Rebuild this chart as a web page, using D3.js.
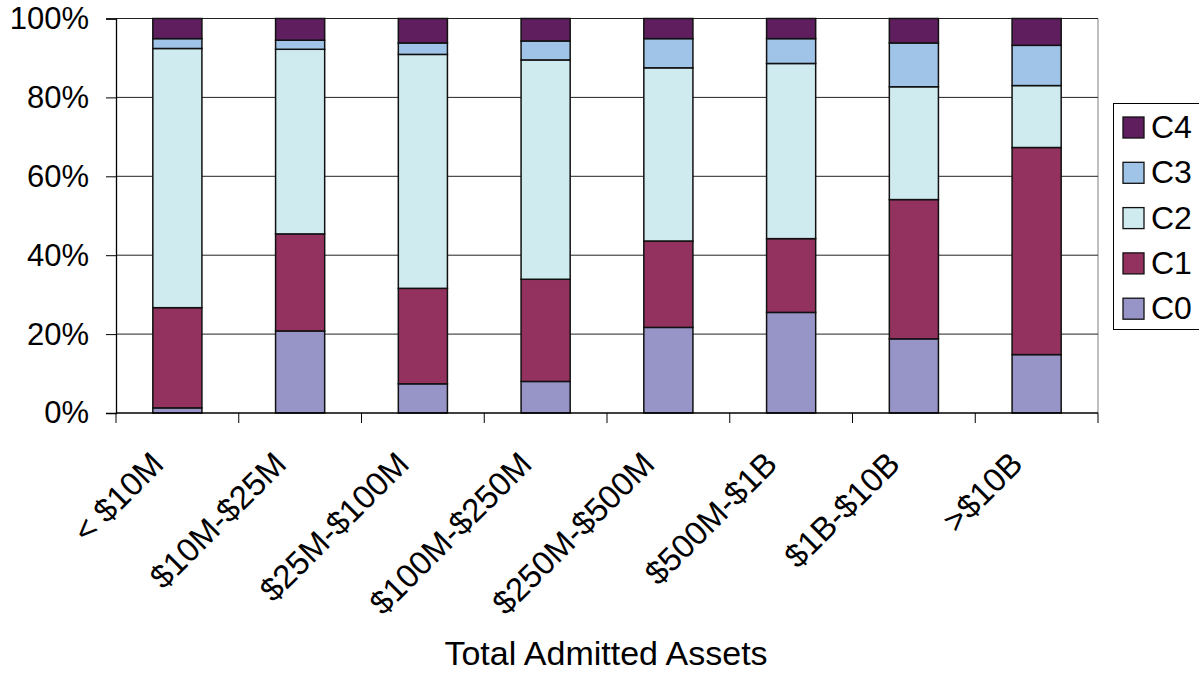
<!DOCTYPE html>
<html>
<head>
<meta charset="utf-8">
<script src="https://cdn.jsdelivr.net/npm/d3@7"></script>
<style>
  html, body { margin: 0; padding: 0; background: #fff; }
  svg { display: block; }
  text { font-family: "Liberation Sans", Arial, sans-serif; fill: #000; }
</style>
</head>
<body>
<svg id="chart" width="1199" height="673"></svg>
<script>
// Asset-size buckets along the x axis
const categories = ["< $10M", "$10M-$25M", "$25M-$100M", "$100M-$250M",
                    "$250M-$500M", "$500M-$1B", "$1B-$10B", ">$10B"];

// Share of each class within a bucket (percent)
const C0 = [1.3, 20.8, 7.4, 8.0, 21.7, 25.5, 18.8, 14.8];
const C1 = [25.4, 24.6, 24.2, 25.9, 21.9, 18.7, 35.3, 52.5];
const C2 = [65.7, 46.8, 59.3, 55.6, 43.9, 44.4, 28.6, 15.7];
const C3 = [2.5, 2.3, 2.9, 4.8, 7.4, 6.3, 11.1, 10.2];
const C4 = [5.1, 5.5, 6.2, 5.7, 5.1, 5.1, 6.2, 6.8];

const seriesNames = ["C0", "C1", "C2", "C3", "C4"];
const seriesValues = [C0, C1, C2, C3, C4];
const seriesColors = ["#9795c8", "#94325f", "#cfebf0", "#9fc4e8", "#5f1f5f"];

const yTicks = [0, 20, 40, 60, 80, 100];
const xTitle = "Total Admitted Assets";

const svg = d3.select("#chart");
const plot = { left: 116, right: 1098, top: 18.5, bottom: 413 };

const x = d3.scaleBand()
  .domain(categories)
  .range([plot.left, plot.right])
  .paddingInner(0.6)
  .paddingOuter(0.3);

const y = d3.scaleLinear().domain([0, 100]).range([plot.bottom, plot.top]);

// rows for stacking
const rows = categories.map((c, i) => {
  const r = { cat: c };
  seriesNames.forEach((s, k) => { r[s] = seriesValues[k][i]; });
  return r;
});
const stacked = d3.stack().keys(seriesNames)(rows);
const color = d3.scaleOrdinal().domain(seriesNames).range(seriesColors);

// plot border on the right
svg.append("line")
  .attr("x1", plot.right).attr("x2", plot.right)
  .attr("y1", plot.top).attr("y2", plot.bottom)
  .attr("stroke", "#808080").attr("stroke-width", 1);

// horizontal gridlines
svg.append("g")
  .selectAll("line")
  .data(yTicks.filter(t => t > 0))
  .join("line")
  .attr("x1", plot.left).attr("x2", plot.right)
  .attr("y1", d => y(d)).attr("y2", d => y(d))
  .attr("stroke", "#222").attr("stroke-width", 1);

// y axis
const yAxis = svg.append("g")
  .attr("transform", `translate(${plot.left},0)`)
  .call(d3.axisLeft(y).tickValues(yTicks).tickFormat(d => d + "%").tickSize(10).tickPadding(17));
yAxis.select(".domain").attr("stroke", "#000").attr("stroke-width", 1.3);
yAxis.selectAll(".tick line").attr("stroke", "#000");
yAxis.selectAll("text").style("font-size", "31px").attr("font-family", "Liberation Sans, Arial, sans-serif");

// stacked bars
svg.append("g")
  .selectAll("g")
  .data(stacked)
  .join("g")
  .attr("fill", d => color(d.key))
  .selectAll("rect")
  .data(d => d)
  .join("rect")
  .attr("x", d => x(d.data.cat))
  .attr("width", x.bandwidth())
  .attr("y", d => y(d[1]))
  .attr("height", d => y(d[0]) - y(d[1]))
  .attr("stroke", "#111")
  .attr("stroke-width", 1.5);

// x axis line and boundary ticks
const bounds = d3.range(categories.length + 1).map(i => plot.left + i * (plot.right - plot.left) / categories.length);
svg.append("line")
  .attr("x1", plot.left).attr("x2", plot.right)
  .attr("y1", plot.bottom).attr("y2", plot.bottom)
  .attr("stroke", "#000").attr("stroke-width", 1.3);
svg.append("g")
  .selectAll("line")
  .data(bounds)
  .join("line")
  .attr("x1", d => d).attr("x2", d => d)
  .attr("y1", plot.bottom).attr("y2", plot.bottom + 10)
  .attr("stroke", "#000");

// rotated category labels
svg.append("g")
  .selectAll("text")
  .data(categories)
  .join("text")
  .attr("transform", d => `translate(${x(d) + x.bandwidth() / 2 - 12},${plot.bottom + 53}) rotate(-45)`)
  .attr("text-anchor", "end")
  .style("font-size", "33px")
  .text(d => d);

// axis title
svg.append("text")
  .attr("x", (plot.left + plot.right) / 2 - 1)
  .attr("y", 665)
  .attr("text-anchor", "middle")
  .style("font-size", "34px")
  .text(xTitle);

// legend (top entry is the top of the stack)
const legend = svg.append("g");
legend.append("rect")
  .attr("x", 1113.5).attr("y", 103.5)
  .attr("width", 100).attr("height", 226)
  .attr("fill", "#fff").attr("stroke", "#000").attr("stroke-width", 1);
const legendItems = seriesNames.slice().reverse();
const li = legend.selectAll("g.item")
  .data(legendItems)
  .join("g")
  .attr("class", "item")
  .attr("transform", (d, i) => `translate(1123,${117 + i * 45.3})`);
li.append("rect")
  .attr("width", 21).attr("height", 21)
  .attr("fill", d => color(d))
  .attr("stroke", "#111").attr("stroke-width", 1.3);
li.append("text")
  .attr("x", 28).attr("y", 21)
  .style("font-size", "32px")
  .text(d => d);
</script>
</body>
</html>
